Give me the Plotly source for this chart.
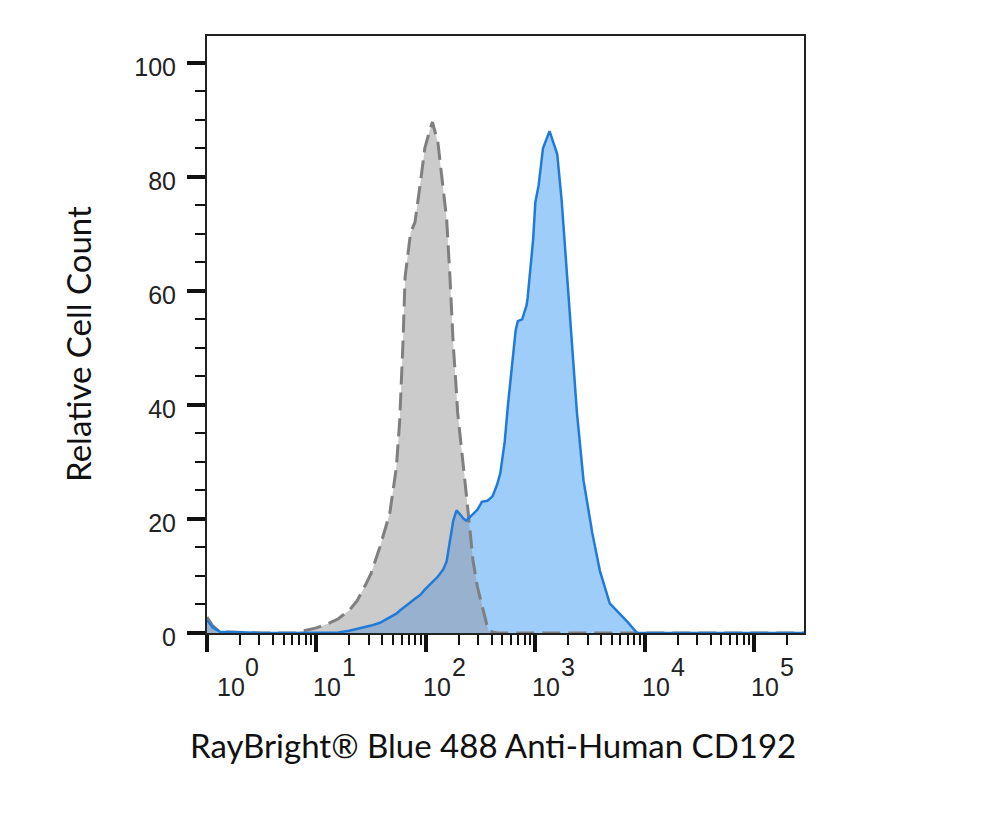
import numpy as np
import plotly.graph_objects as go

# channel position in decades (10^n), shared by both histograms
decade_pos = [0.0, 0.05, 0.12, 0.5, 0.8, 1.0, 1.1, 1.2, 1.3, 1.37, 1.45, 1.5, 1.58,
              1.67, 1.73, 1.76, 1.79, 1.81, 1.86, 1.90, 1.95, 1.99, 2.04, 2.06, 2.11,
              2.16, 2.19, 2.22, 2.25, 2.28, 2.29, 2.33, 2.34, 2.37, 2.39, 2.43, 2.47,
              2.50, 2.51, 2.56, 2.57, 2.61, 2.65, 2.68, 2.72, 2.75, 2.79, 2.82, 2.84,
              2.88, 2.92, 2.93, 2.98, 3.0, 3.03, 3.07, 3.13, 3.20, 3.24, 3.29, 3.33,
              3.38, 3.44, 3.52, 3.59, 3.68, 3.84, 3.93, 4.5, 5.46]

# isotype control (grey, dashed)
isotype = [2.8, 1.3, 0.2, 0, 0, 0.9, 1.6, 2.5, 4.0, 5.6, 8.5, 10.5, 15.1,
           21, 29, 37, 50.6, 62.4, 70.2, 72, 79, 85, 88.5, 89.6, 86,
           78, 72.5, 62.4, 50.6, 42, 38.7, 31.5, 29.8, 24, 20.5, 12.8, 8.2,
           5.8, 5, 0.8, 0.5, 0.2, 0, 0, 0, 0, 0, 0, 0,
           0, 0, 0, 0, 0, 0, 0, 0, 0, 0, 0, 0,
           0, 0, 0, 0, 0, 0, 0, 0, 0]

# CD192 stained (blue)
stained = [2.3, 1.0, 0.2, 0, 0, 0, 0, 0.1, 0.4, 0.7, 1.1, 1.3, 1.8,
           2.7, 3.4, 3.9, 4.4, 4.7, 5.4, 6.0, 6.7, 7.6, 8.5, 8.9, 9.9,
           11.2, 12.6, 16.2, 19.7, 21.5, 21.3, 20.4, 20.1, 19.7, 20.1, 20.9, 21.6,
           22.6, 23, 23.2, 23.3, 24, 26, 28, 33.5, 40, 48, 53, 54.7,
           55, 57.5, 58.8, 69, 75.5, 78.5, 85, 88, 84, 76, 62, 51.5,
           38.7, 26.8, 17.6, 10.9, 5.2, 2.0, 0, 0, 0]

exponents = [0, 1, 2, 3, 4, 5]

x = 10 ** np.array(decade_pos)
overlap = np.minimum(isotype, stained)

fig = go.Figure()
fig.add_trace(go.Scatter(x=x, y=isotype, mode="lines", fill="tozeroy",
                         fillcolor="#cbcbcb", line=dict(width=0), hoverinfo="skip"))
fig.add_trace(go.Scatter(x=x, y=stained, mode="lines", fill="tozeroy",
                         fillcolor="#9fcdf9", line=dict(width=0), hoverinfo="skip"))
fig.add_trace(go.Scatter(x=x, y=overlap, mode="lines", fill="tozeroy",
                         fillcolor="#97b1cf", line=dict(width=0), hoverinfo="skip"))
fig.add_trace(go.Scatter(x=x, y=isotype, mode="lines",
                         line=dict(color="#7f7f7f", width=3, dash="18px,8px"), name="Isotype"))
fig.add_trace(go.Scatter(x=x, y=stained, mode="lines",
                         line=dict(color="#1f7ad8", width=2.5), name="CD192"))

tick_font = dict(family="Liberation Sans, Arial", size=25, color="#222222")

# decade labels drawn as "10" with a raised exponent, like the cytometer export
ann = []
for n in exponents:
    ann.append(dict(x=n, xref="x", y=0, yref="paper", text="10", showarrow=False,
                    xshift=24 if n == 0 else 11, yshift=-54, font=tick_font,
                    xanchor="center", yanchor="middle"))
    ann.append(dict(x=n, xref="x", y=0, yref="paper", text=str(n), showarrow=False,
                    xshift=45 if n == 0 else 33, yshift=-34, font=tick_font,
                    xanchor="center", yanchor="middle"))

label_font = dict(family="Lato, Open Sans", size=33, color="#111111")
ann.append(dict(x=0.4796, xref="paper", y=-0.188, yref="paper", showarrow=False,
                text="RayBright® Blue 488 Anti-Human CD192", font=label_font,
                xanchor="center", yanchor="middle"))
ann.append(dict(x=-0.215, xref="paper", y=0.4836, yref="paper", showarrow=False,
                text="Relative Cell Count", font=label_font, textangle=-90,
                xanchor="center", yanchor="middle"))

# the page adds an 8px body margin, so the margins are pulled in by 8px
fig.update_layout(
    width=1000, height=825,
    margin=dict(l=199, r=204, t=28, b=200),
    paper_bgcolor="white", plot_bgcolor="white",
    showlegend=False,
    annotations=ann,
    xaxis=dict(type="log", range=[0, 5.455], dtick=1, showticklabels=False,
               showgrid=False, zeroline=False, showline=True, linecolor="#222222",
               linewidth=2, mirror=True, ticks="outside", ticklen=17, tickwidth=4,
               tickcolor="#111111",
               minor=dict(dtick="D1", ticks="outside", ticklen=10, tickwidth=2,
                          tickcolor="#111111", showgrid=False)),
    yaxis=dict(range=[0, 104.7], dtick=20, showgrid=False, zeroline=False,
               showline=True, linecolor="#222222", linewidth=2, mirror=True,
               ticks="outside", ticklen=18, tickwidth=4, tickcolor="#111111",
               tickfont=tick_font, ticklabelstandoff=6, ticklabelshift=4,
               minor=dict(dtick=5, ticks="outside", ticklen=10, tickwidth=2,
                          tickcolor="#111111", showgrid=False)),
)

fig.write_html("out.html")
